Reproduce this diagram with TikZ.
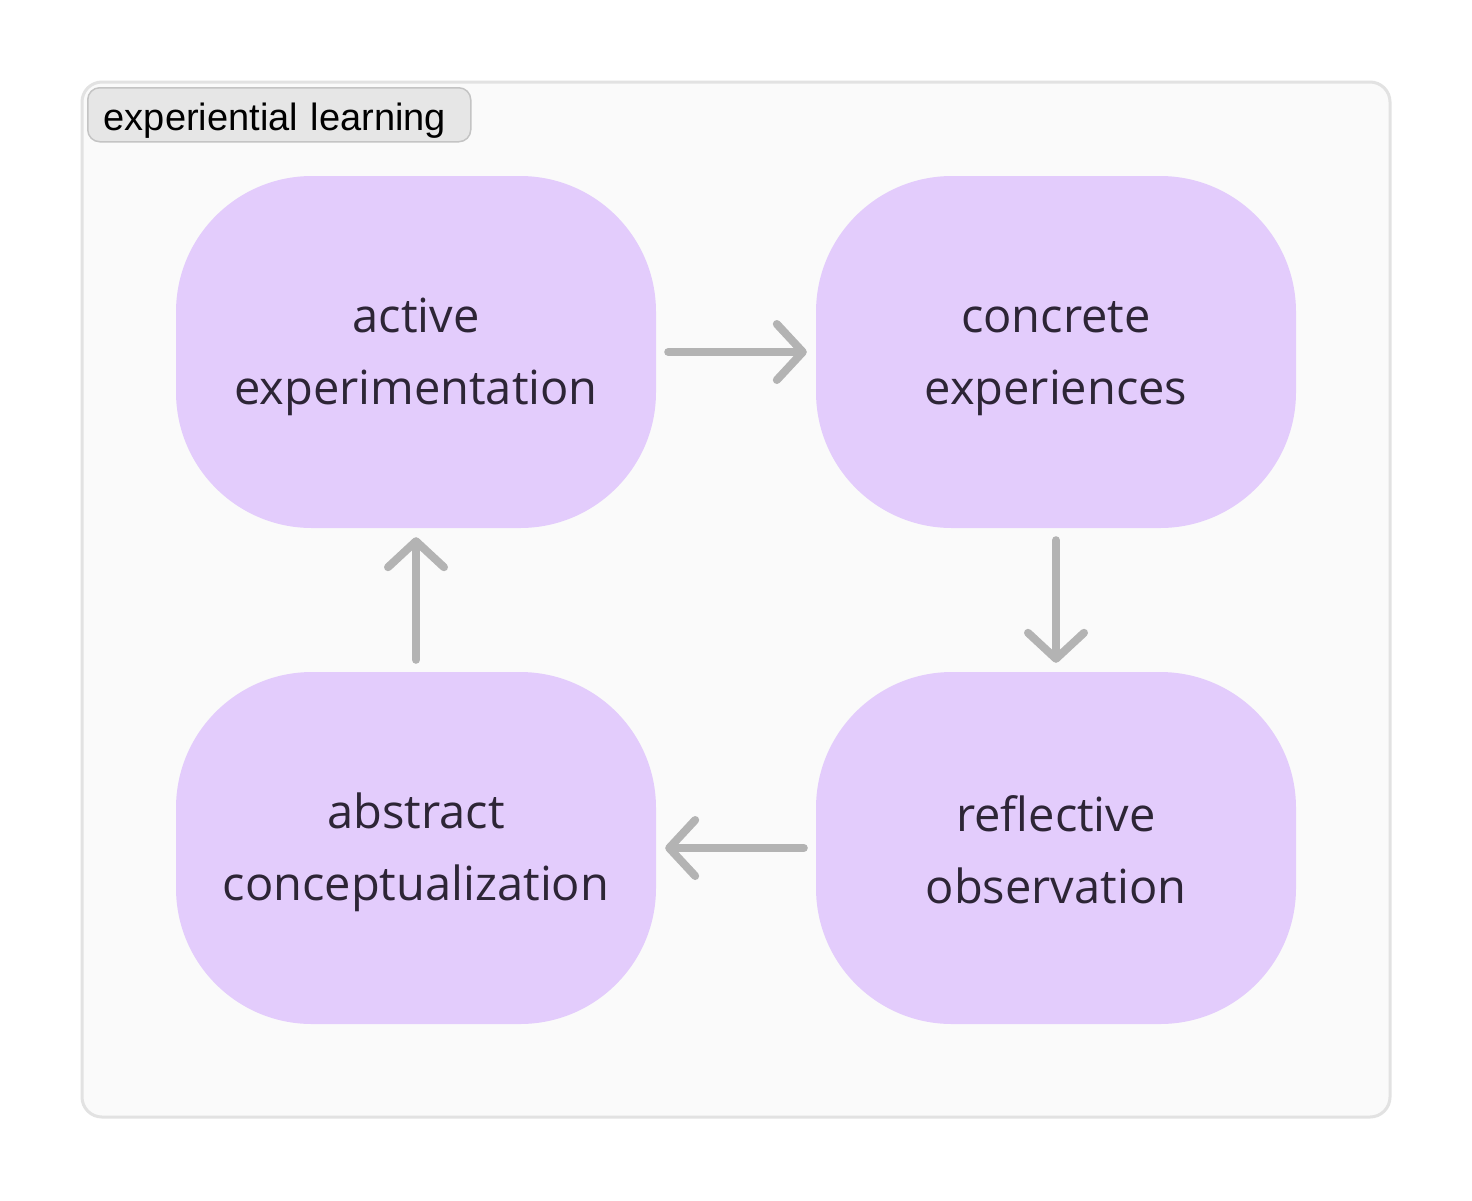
\documentclass[tikz,border=0pt]{standalone}
\usepackage{fontspec}
\setmainfont{Liberation Sans}
\newfontfamily\nodefont{Open Sans}
\usetikzlibrary{arrows.meta}
\definecolor{boxfill}{HTML}{E3CCFC}
\definecolor{txt}{HTML}{2D2536}
\definecolor{arr}{HTML}{B3B3B3}
\definecolor{panel}{HTML}{FAFAFA}
\definecolor{panelline}{HTML}{E2E2E2}
\definecolor{tagfill}{HTML}{E6E6E6}
\definecolor{tagline}{HTML}{C4C4C4}
\newcommand{\lstrut}{\rule[-6pt]{0pt}{50pt}}
\tikzset{
  stage/.style={fill=boxfill, draw=none, rounded corners=136pt, minimum width=480pt, minimum height=352pt,
    align=center, text=txt, font=\nodefont\fontsize{47}{72}\selectfont, inner sep=0pt},
  flow/.style={draw=arr, line width=8pt, line cap=round,
    -{Straight Barb[length=26pt, width=56pt, round]}, shorten <=12pt, shorten >=9pt},
}
\begin{document}
\begin{tikzpicture}[x=1pt,y=-1pt]
\useasboundingbox (0,0) rectangle (1472,1200);
\fill[white] (0,0) rectangle (1472,1200);
\draw[fill=panel, draw=panelline, line width=3pt, rounded corners=20pt] (82,82) rectangle (1390,1117);
\node[fill=tagfill, draw=tagline, line width=1.5pt, rounded corners=12pt, anchor=north west,
  minimum width=383pt, minimum height=54pt, inner xsep=16pt, inner ysep=0pt, text width=351pt, align=left,
  text height=34pt, text depth=2pt, font=\fontsize{38}{46}\selectfont] (tag) at (87,87) {experiential learning};
\node[stage] (ae) at (416,352) {\lstrut active\\\lstrut experimentation};
\node[stage] (ce) at (1056,352) {\lstrut concrete\\\lstrut experiences};
\node[stage] (ro) at (1056,848) {\lstrut reflective\\\lstrut observation};
\node[stage] (ac) at (416,848) {\lstrut abstract\\\lstrut conceptualization};
\draw[flow] (ae.east) -- (ce.west);
\draw[flow] (ce.south) -- (ro.north);
\draw[flow] (ro.west) -- (ac.east);
\draw[flow] (ac.north) -- (ae.south);
\end{tikzpicture}
\end{document}
